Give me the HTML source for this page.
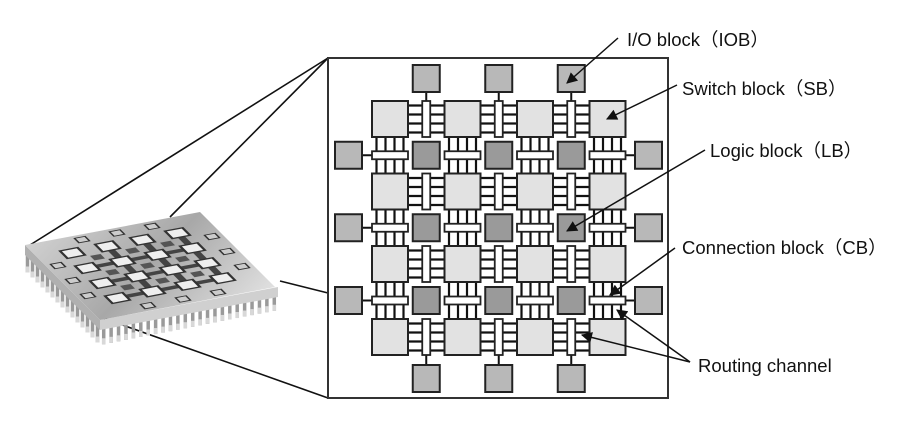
<!DOCTYPE html>
<html><head><meta charset="utf-8"><style>
html,body{margin:0;padding:0;background:#fff;}
svg{display:block;}
text{font-family:"Liberation Sans","Noto Sans CJK JP",sans-serif;font-size:18.5px;fill:#111;}
</style></head><body>
<svg id="fig" width="915" height="421" viewBox="0 0 915 421" xmlns="http://www.w3.org/2000/svg">
<defs>
<marker id="ah" viewBox="0 0 10 10" refX="9" refY="5" markerWidth="12" markerHeight="11" orient="auto" markerUnits="userSpaceOnUse"><path d="M0,0 L10,5 L0,10 z" fill="#111"/></marker>
<linearGradient id="top" x1="0" y1="0" x2="1" y2="1"><stop offset="0" stop-color="#d0d0d0"/><stop offset="0.5" stop-color="#a8a8a8"/><stop offset="1" stop-color="#e0e0e0"/></linearGradient>
</defs>
<g id="zoom-lines" stroke="#111" stroke-width="1.6">
<line x1="30" y1="245" x2="328" y2="58"/>
<line x1="170" y1="217" x2="328" y2="58"/>
<line x1="280" y1="281" x2="328" y2="293"/>
<line x1="100" y1="317" x2="328" y2="398"/>
</g>
<g id="chip"></g>
<rect x="328" y="58" width="340" height="340" fill="none" stroke="#333" stroke-width="2"/>
<g id="grid"></g>
<g id="labels">
<text x="627" y="46">I/O block（IOB）</text>
<text x="682" y="95">Switch block（SB）</text>
<text x="710" y="157">Logic block（LB）</text>
<text x="682" y="254">Connection block（CB）</text>
<text x="698" y="372">Routing channel</text>
</g>
<g id="arrows" stroke="#111" stroke-width="1.5" marker-end="url(#ah)">
<line x1="618" y1="38" x2="567" y2="83"/>
<line x1="677" y1="85" x2="607" y2="119"/>
<line x1="705" y1="150" x2="567" y2="231"/>
<line x1="675" y1="248" x2="610" y2="295"/>
<line x1="690" y1="362" x2="617" y2="310"/>
<line x1="690" y1="362" x2="582" y2="335"/>
</g>
</svg>
<script>
const NS="http://www.w3.org/2000/svg";
function mk(p,tag,a){const e=document.createElementNS(NS,tag);for(const k in a)e.setAttribute(k,a[k]);p.appendChild(e);return e;}
const g=document.getElementById('grid');
const X=[372,444.5,517,589.5],Y=[101,173.5,246,319],S=36,L=27;
const LW='#111';
for(let r=0;r<4;r++)for(let c=0;c<3;c++){
  for(let k=0;k<4;k++){const y=Y[r]+4.5+k*9;mk(g,'line',{x1:X[c]+S,y1:y,x2:X[c+1],y2:y,stroke:LW,'stroke-width':2.2});}
}
for(let c=0;c<4;c++)for(let r=0;r<3;r++){
  for(let k=0;k<4;k++){const x=X[c]+4.5+k*9;mk(g,'line',{x1:x,y1:Y[r]+S,x2:x,y2:Y[r+1],stroke:LW,'stroke-width':2.2});}
}
const gx=[0,1,2].map(i=>(X[i]+S+X[i+1])/2), gy=[0,1,2].map(i=>(Y[i]+S+Y[i+1])/2);
gx.forEach(x=>{mk(g,'line',{x1:x,y1:91,x2:x,y2:101,stroke:LW,'stroke-width':2});mk(g,'line',{x1:x,y1:355,x2:x,y2:365,stroke:LW,'stroke-width':2});});
gy.forEach(y=>{mk(g,'line',{x1:362,y1:y,x2:372,y2:y,stroke:LW,'stroke-width':2});mk(g,'line',{x1:625,y1:y,x2:635,y2:y,stroke:LW,'stroke-width':2});});
for(let r=0;r<4;r++)for(let c=0;c<3;c++){const e=mk(g,'rect',{x:gx[c]-4,y:Y[r],width:8,height:S,fill:'#fff',stroke:'#222','stroke-width':1.8});

}
for(let c=0;c<4;c++)for(let r=0;r<3;r++){const e=mk(g,'rect',{x:X[c],y:gy[r]-4,width:S,height:8,fill:'#fff',stroke:'#222','stroke-width':1.8});

}
for(let r=0;r<4;r++)for(let c=0;c<4;c++){const e=mk(g,'rect',{x:X[c],y:Y[r],width:S,height:S,fill:'#e2e2e2',stroke:'#222','stroke-width':2});

}
for(let r=0;r<3;r++)for(let c=0;c<3;c++){const e=mk(g,'rect',{x:gx[c]-13.5,y:gy[r]-13.5,width:L,height:L,fill:'#9a9a9a',stroke:'#222','stroke-width':2});

}
function io(x,y){const e=mk(g,'rect',{x:x,y:y,width:27,height:27,fill:'#b8b8b8',stroke:'#222','stroke-width':2});

}
gx.forEach(x=>{io(x-13.5,65);io(x-13.5,365);});
gy.forEach(y=>{io(335,y-13.5);io(635,y-13.5);});
// chip
const ch=document.getElementById('chip');
for(let i=0;i<15;i++){const t=(i+0.5)/15;const x=25+75*t, y=250+75*t;mk(ch,'line',{x1:x,y1:y,x2:x,y2:y+20,stroke:'#9a9a9a','stroke-width':3.5});mk(ch,'line',{x1:x,y1:y+14,x2:x,y2:y+20,stroke:'#d8d8d8','stroke-width':3.5});}
for(let i=0;i<24;i++){const t=(i+0.5)/24;const x=100+178*t, y=325-35*t;mk(ch,'line',{x1:x,y1:y,x2:x,y2:y+20,stroke:'#9a9a9a','stroke-width':3.5});mk(ch,'line',{x1:x,y1:y+14,x2:x,y2:y+20,stroke:'#d8d8d8','stroke-width':3.5});}
mk(ch,'polygon',{points:'25,245 100,320 100,330 25,255',fill:'#b0b0b0'});
mk(ch,'polygon',{points:'100,320 278,287 278,297 100,330',fill:'#d0d0d0'});
const tg=mk(ch,'g',{transform:'matrix(1.75,-0.33,0.75,0.75,25,245)'});
mk(tg,'rect',{x:0,y:0,width:100,height:100,fill:'url(#top)'});
for(let r=0;r<3;r++)for(let c=0;c<3;c++){mk(tg,'line',{x1:24+c*20,y1:19+r*20+20,x2:34+c*20,y2:19+r*20+20,stroke:'#444','stroke-width':4});
mk(tg,'line',{x1:19+c*20+20,y1:24+r*20,x2:19+c*20+20,y2:34+r*20,stroke:'#444','stroke-width':4});}
for(let r=0;r<4;r++)for(let c=0;c<4;c++){mk(tg,'rect',{x:14+c*20,y:14+r*20,width:10,height:10,fill:'#eee',stroke:'#333','stroke-width':1.5});}
for(let r=0;r<3;r++)for(let c=0;c<3;c++){mk(tg,'rect',{x:26+c*20,y:26+r*20,width:6,height:6,fill:'#555'});}
for(let i=0;i<3;i++){mk(tg,'rect',{x:27+i*20,y:3,width:6,height:6,fill:'#ccc',stroke:'#333','stroke-width':1});
mk(tg,'rect',{x:27+i*20,y:91,width:6,height:6,fill:'#ccc',stroke:'#333','stroke-width':1});
mk(tg,'rect',{x:3,y:27+i*20,width:6,height:6,fill:'#ccc',stroke:'#333','stroke-width':1});
mk(tg,'rect',{x:91,y:27+i*20,width:6,height:6,fill:'#ccc',stroke:'#333','stroke-width':1});}
</script>
</body></html>
